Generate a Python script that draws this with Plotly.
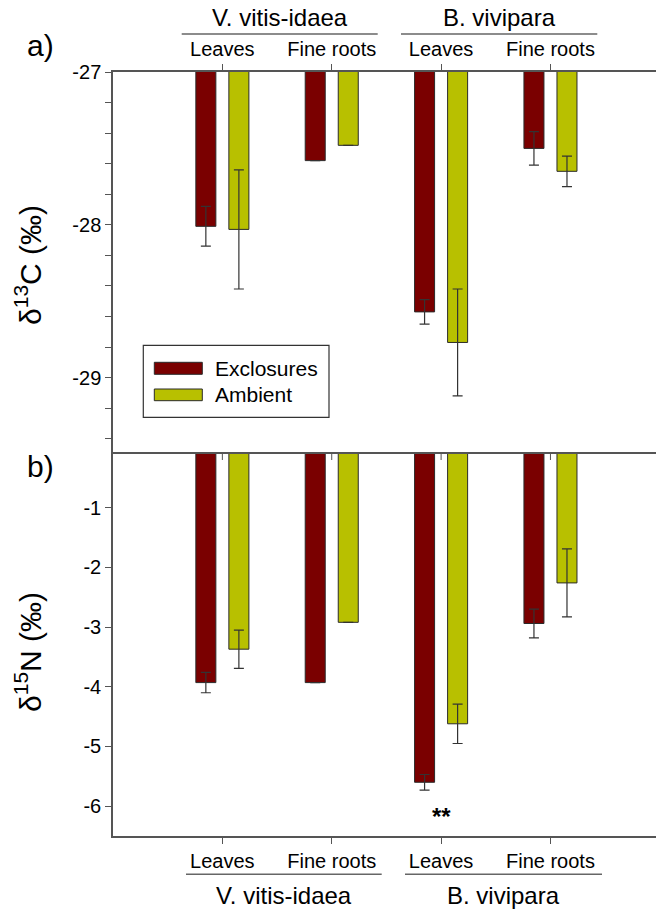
import plotly.graph_objects as go

# ---------------- data ----------------
categories = ["Leaves", "Fine roots", "Leaves", "Fine roots"]
species = ["V. vitis-idaea", "B. vivipara"]
series_names = ["Exclosures", "Ambient"]

d13c_exclosures = [-28.01, -27.58, -28.57, -27.50]
d13c_exclosures_se = [0.13, None, 0.08, 0.11]
d13c_ambient = [-28.03, -27.48, -28.77, -27.65]
d13c_ambient_se = [0.39, None, 0.35, 0.10]

d15n_exclosures = [-3.93, -3.93, -5.60, -2.94]
d15n_exclosures_se = [0.17, None, 0.13, 0.24]
d15n_ambient = [-3.37, -2.92, -4.62, -2.26]
d15n_ambient_se = [0.32, None, 0.33, 0.57]

d13c_ticks = [-27, -28, -29]
d13c_ticklabels = ["-27", "-28", "-29"]
d15n_ticks = [-1, -2, -3, -4, -5, -6]
d15n_ticklabels = ["-1", "-2", "-3", "-4", "-5", "-6"]

# ---------------- styles ----------------
W, H = 656, 909
ML, MR, MT, MB = 113, 0, 72, 73
colors = ["#7A0000", "#B8C000"]
FONT = "Arial, Liberation Sans, sans-serif"
AX = "#555555"

def px_x(p):
    return (p - ML) / (W - ML - MR)

def px_y(p):
    return (H - MB - p) / (H - MT - MB)

xpos = list(range(len(categories)))

fig = go.Figure()

panels = [
    (d13c_exclosures, d13c_exclosures_se, d13c_ambient, d13c_ambient_se, "x", "y"),
    (d15n_exclosures, d15n_exclosures_se, d15n_ambient, d15n_ambient_se, "x2", "y2"),
]
for ex, exse, am, amse, xa, ya in panels:
    for vals, se, name, col in [(ex, exse, series_names[0], colors[0]),
                                (am, amse, series_names[1], colors[1])]:
        fig.add_trace(go.Bar(
            x=xpos, y=vals, name=name, xaxis=xa, yaxis=ya,
            marker=dict(color=col, line=dict(color="#2a2a2a", width=1)),
            error_y=dict(type="data", array=se, visible=True,
                         color="#333333", thickness=1.2, width=5),
            showlegend=False,
        ))

xrange = [-1.0, 3.965]
common_x = dict(range=xrange, tickvals=xpos, ticktext=categories,
                showline=True, linecolor=AX, linewidth=1.5,
                ticks="outside", ticklen=6, tickcolor=AX, tickwidth=1,
                showgrid=False, zeroline=False,
                tickfont=dict(family=FONT, size=20, color="black"))
common_y = dict(showline=True, linecolor=AX, linewidth=1.5,
                ticks="outside", ticklen=6, tickcolor=AX, tickwidth=1,
                showgrid=False, zeroline=False,
                tickfont=dict(family=FONT, size=20, color="black"))

fig.update_layout(
    width=W, height=H,
    margin=dict(l=ML, r=MR, t=MT, b=MB),
    plot_bgcolor="white", paper_bgcolor="white",
    barmode="group", bargap=0.396, bargroupgap=0.394,
    font=dict(family=FONT, color="black"),
    xaxis=dict(anchor="y", side="top", domain=[0, 1], **common_x),
    yaxis=dict(domain=[0.5, 1], range=[-29.5, -27], tickvals=d13c_ticks,
               ticktext=d13c_ticklabels,
               minor=dict(dtick=0.2, ticks="outside", ticklen=6,
                          tickcolor=AX, tickwidth=1),
               **common_y),
    xaxis2=dict(anchor="y2", side="bottom", domain=[0, 1], mirror=True, **common_x),
    yaxis2=dict(domain=[0, 0.5], range=[-6.5, -0.1], tickvals=d15n_ticks,
                ticktext=d15n_ticklabels, **common_y),
)

shapes = []
# inward ticks at the top of panel b
for xv in xpos:
    shapes.append(dict(type="line", xref="x2", yref="paper", x0=xv, x1=xv,
                       y0=px_y(454), y1=px_y(460), line=dict(color=AX, width=1)))
# group lines top and bottom
for x0, x1 in [(181.7, 377.7), (401, 597.3)]:
    shapes.append(dict(type="line", xref="paper", yref="paper",
                       x0=px_x(x0), x1=px_x(x1), y0=px_y(34), y1=px_y(34),
                       line=dict(color="#666666", width=1.5)))
for x0, x1 in [(186, 381.7), (405, 602)]:
    shapes.append(dict(type="line", xref="paper", yref="paper",
                       x0=px_x(x0), x1=px_x(x1), y0=px_y(874.3), y1=px_y(874.3),
                       line=dict(color="#666666", width=1.5)))
# legend box
shapes.append(dict(type="rect", xref="paper", yref="paper",
                   x0=px_x(143.3), x1=px_x(329), y0=px_y(417.3), y1=px_y(345.3),
                   line=dict(color="#333333", width=1.2), fillcolor="white"))
for (y0, y1), col in zip([(362.3, 374.3), (389, 400.7)], colors):
    shapes.append(dict(type="rect", xref="paper", yref="paper",
                       x0=px_x(154.3), x1=px_x(202.3), y0=px_y(y1), y1=px_y(y0),
                       line=dict(color="#2a2a2a", width=1), fillcolor=col))

annotations = []
for name, yc in zip(series_names, [368.3, 394]):
    annotations.append(dict(text=name, xref="paper", yref="paper",
                            x=px_x(213), y=px_y(yc), xanchor="left", yanchor="middle",
                            showarrow=False, font=dict(family=FONT, size=21)))
for sp, xc in zip(species, [279.7, 499.2]):
    annotations.append(dict(text=sp, xref="paper", yref="paper",
                            x=px_x(xc), y=px_y(17), xanchor="center", yanchor="middle",
                            showarrow=False, font=dict(family=FONT, size=24)))
for sp, xc in zip(species, [283.8, 503.5]):
    annotations.append(dict(text=sp, xref="paper", yref="paper",
                            x=px_x(xc), y=px_y(895.7), xanchor="center", yanchor="middle",
                            showarrow=False, font=dict(family=FONT, size=24)))
for lab, yc in [("a)", 46), ("b)", 466)]:
    annotations.append(dict(text=lab, xref="paper", yref="paper",
                            x=px_x(40), y=px_y(yc), xanchor="center", yanchor="middle",
                            showarrow=False, font=dict(family=FONT, size=30)))
for lab, yc in [("δ<sup>13</sup>C (‰)", 265), ("δ<sup>15</sup>N (‰)", 652)]:
    annotations.append(dict(text=lab, xref="paper", yref="paper",
                            x=px_x(28), y=px_y(yc), xanchor="center", yanchor="middle",
                            textangle=-90, showarrow=False,
                            font=dict(family=FONT, size=30)))
annotations.append(dict(text="<b>**</b>", xref="x2", yref="paper",
                        x=xpos[2], y=px_y(816), xanchor="center", yanchor="middle",
                        showarrow=False, font=dict(family=FONT, size=24)))

fig.update_layout(shapes=shapes, annotations=annotations)
fig.write_html("out.html", config={"displayModeBar": False},
               post_script="document.body.style.margin='0';")
